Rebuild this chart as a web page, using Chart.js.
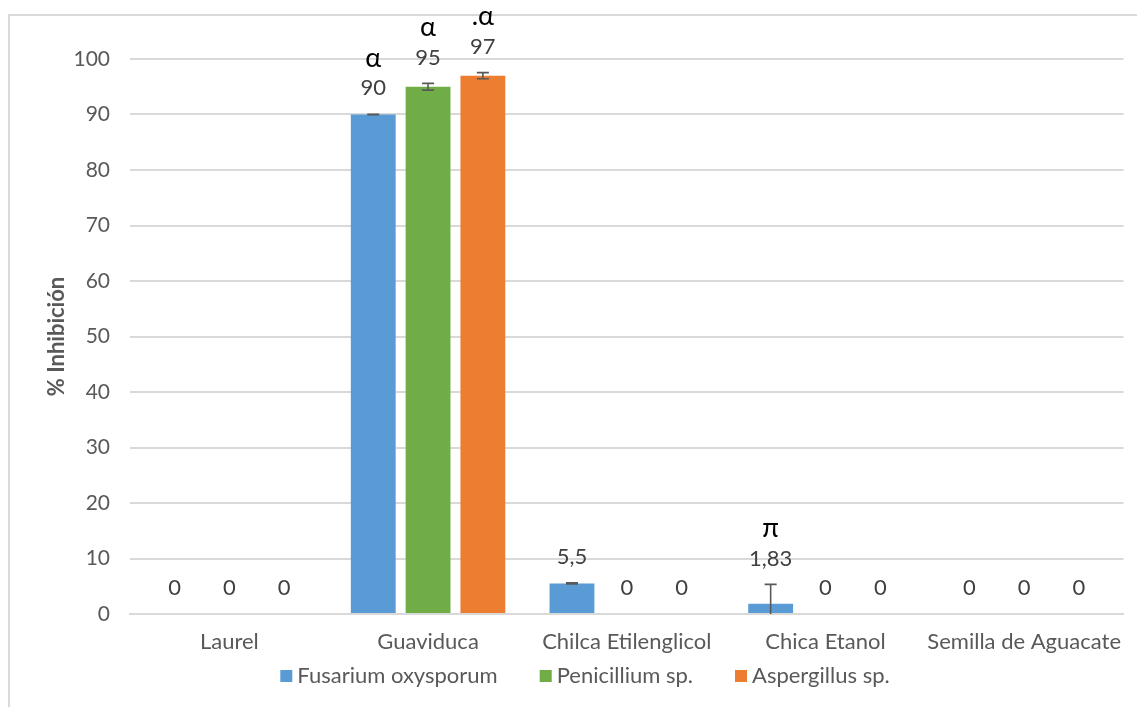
<!DOCTYPE html>
<html>
<head>
<meta charset="utf-8">
<script src="https://cdn.jsdelivr.net/npm/chart.js@4/dist/chart.umd.min.js"></script>
<style>
  html, body { margin: 0; padding: 0; background: #fff; }
  canvas { display: block; }
</style>
</head>
<body>
<canvas id="chart" width="1137" height="707"></canvas>
<script>
// categories and series
const categories = ['Laurel', 'Guaviduca', 'Chilca Etilenglicol', 'Chica Etanol', 'Semilla de Aguacate'];
const fusarium = [0, 90, 5.5, 1.83, 0];
const penicillium = [0, 95, 0, 0, 0];
const aspergillus = [0, 97, 0, 0, 0];

// error bar half-widths
const fusariumErr = [0, 0.05, 0.1, 3.5, 0];
const penicilliumErr = [0, 0.6, 0, 0, 0];
const aspergillusErr = [0, 0.55, 0, 0, 0];

// significance letters above the labels
const fusariumLetters = ['', 'α', '', 'π', ''];
const penicilliumLetters = ['', 'α', '', '', ''];
const aspergillusLetters = ['', '.α', '', '', ''];

const yTicks = [0, 10, 20, 30, 40, 50, 60, 70, 80, 90, 100];

const FONT = 'Lato';
const GRID = '#d9d9d9';
const TEXT = '#595959';

function fmt(v) {
    return String(v).replace('.', ',');
}

// frame around the whole chart
const framePlugin = {
    id: 'frame',
    beforeDraw(chart) {
        const ctx = chart.ctx;
        ctx.save();
        ctx.fillStyle = '#fff';
        ctx.fillRect(0, 0, chart.width, chart.height);
        ctx.strokeStyle = GRID;
        ctx.lineWidth = 2;
        ctx.strokeRect(9, 15, chart.width + 20, chart.height + 20);
        ctx.restore();
    }
};

// error bars, value labels and letters
const labelPlugin = {
    id: 'labels',
    afterDatasetsDraw(chart) {
        const ctx = chart.ctx;
        const y = chart.scales.y;
        ctx.save();
        chart.data.datasets.forEach((ds, di) => {
            const meta = chart.getDatasetMeta(di);
            meta.data.forEach((bar, i) => {
                const v = ds.data[i];
                const e = ds.err[i];
                const x = bar.x;
                let top = y.getPixelForValue(v);
                if (e > 0) {
                    const hi = y.getPixelForValue(v + e);
                    const loVal = v - e;
                    const lo = y.getPixelForValue(Math.max(0, loVal));
                    ctx.strokeStyle = '#595959';
                    ctx.lineWidth = 1.6;
                    ctx.beginPath();
                    ctx.moveTo(x, lo);
                    ctx.lineTo(x, hi);
                    ctx.moveTo(x - 6, hi);
                    ctx.lineTo(x + 6, hi);
                    if (loVal >= 0) {
                        ctx.moveTo(x - 6, lo);
                        ctx.lineTo(x + 6, lo);
                    }
                    ctx.stroke();
                    top = hi;
                }
                const ly = top - 26;
                ctx.fillStyle = '#404040';
                ctx.font = '22px ' + FONT;
                ctx.textAlign = 'center';
                ctx.textBaseline = 'middle';
                ctx.fillText(fmt(v), x, ly);
                const letter = ds.letters[i];
                if (letter) {
                    ctx.fillStyle = '#000';
                    ctx.font = '27px ' + FONT;
                    ctx.fillText(letter, x, ly - 30);
                }
            });
        });
        ctx.restore();
    }
};

// legend row under the category labels
const legendPlugin = {
    id: 'legendRow',
    afterDraw(chart) {
        const ctx = chart.ctx;
        ctx.save();
        ctx.font = '22px ' + FONT;
        ctx.textBaseline = 'middle';
        ctx.textAlign = 'left';
        const box = 12, gap = 5, spacing = 42;
        const items = chart.data.datasets.map(ds => ({
            text: ds.label, color: ds.backgroundColor, w: box + gap + ctx.measureText(ds.label).width
        }));
        const total = items.reduce((s, it) => s + it.w, 0) + spacing * (items.length - 1);
        let x = 585 - total / 2;
        const yc = 676;
        items.forEach(it => {
            ctx.fillStyle = it.color;
            ctx.fillRect(x, yc - box / 2, box, box);
            ctx.fillStyle = TEXT;
            ctx.fillText(it.text, x + box + gap, yc);
            x += it.w + spacing;
        });
        ctx.restore();
    }
};

const ctx = document.getElementById('chart').getContext('2d');
const chart = new Chart(ctx, {
    type: 'bar',
    data: {
        labels: categories,
        datasets: [
            { label: 'Fusarium oxysporum', data: fusarium, err: fusariumErr, letters: fusariumLetters, backgroundColor: '#5b9bd5' },
            { label: 'Penicillium sp.', data: penicillium, err: penicilliumErr, letters: penicilliumLetters, backgroundColor: '#70ad47' },
            { label: 'Aspergillus sp.', data: aspergillus, err: aspergillusErr, letters: aspergillusLetters, backgroundColor: '#ed7d31' }
        ]
    },
    options: {
        responsive: false,
        animation: false,
        devicePixelRatio: 1,
        layout: { padding: { top: 59, right: 10, bottom: 47, left: 0 } },
        datasets: {
            bar: { categoryPercentage: 0.8275, barPercentage: 0.818 }
        },
        scales: {
            x: {
                grid: { display: false, drawTicks: false },
                border: { color: GRID, width: 2 },
                ticks: { color: TEXT, font: { family: FONT, size: 22 }, padding: 15, maxRotation: 0, autoSkip: false },
                afterFit(scale) {
                    scale.height = 46;
                }
            },
            y: {
                min: 0,
                max: 100,
                afterBuildTicks(scale) {
                    scale.ticks = yTicks.map(v => ({ value: v }));
                },
                afterFit(scale) {
                    scale.width = 130;
                },
                grid: { color: GRID, lineWidth: 2, drawTicks: false },
                border: { display: false },
                ticks: { color: TEXT, font: { family: FONT, size: 21 }, padding: 20 },
                title: {
                    display: true,
                    text: '% Inhibición',
                    color: TEXT,
                    font: { family: FONT, size: 22, weight: 'bold' },
                    padding: { top: 44, bottom: 0 }
                }
            }
        },
        plugins: {
            legend: { display: false },
            tooltip: { enabled: false }
        }
    },
    plugins: [framePlugin, labelPlugin, legendPlugin]
});
</script>
</body>
</html>
